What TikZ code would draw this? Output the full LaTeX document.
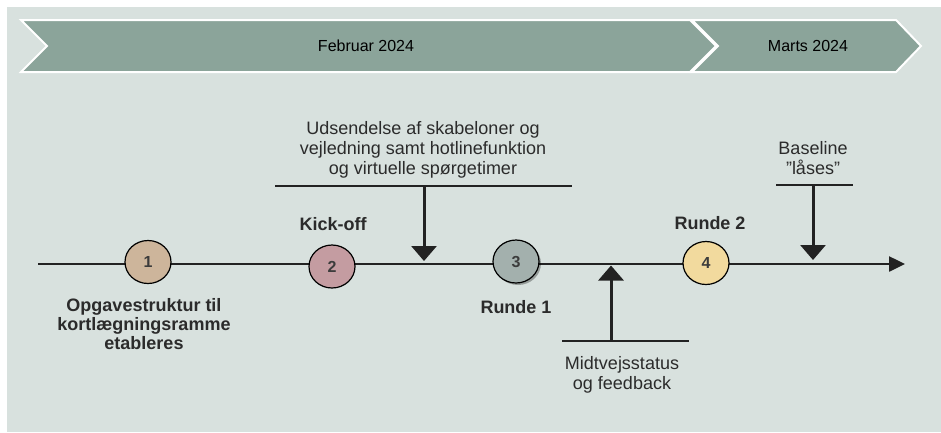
\documentclass[tikz,border=0pt]{standalone}
\usepackage{fontspec}
\setmainfont{Liberation Sans}
\usepackage{tikz}
\usetikzlibrary{calc, arrows.meta, shapes.geometric, shadows}
\usepackage{tkz-euclide}
\usepackage{xcolor}
\definecolor{bgcol}{HTML}{D8E1DE}
\definecolor{bannercol}{HTML}{8BA49A}
\definecolor{linecol}{HTML}{222222}
\definecolor{txtcol}{HTML}{2B2B2B}
\definecolor{numcol}{HTML}{3C3C3C}
\definecolor{tanfill}{HTML}{CDB59B}
\definecolor{rosefill}{HTML}{C49CA1}
\definecolor{greyfill}{HTML}{A3B0AD}
\definecolor{sandfill}{HTML}{F2DA9E}

\begin{document}
\begin{tikzpicture}[x=1pt, y=-1pt,
        milestone/.style={ellipse, draw=black, line width=1.2pt, minimum width=46pt, minimum height=43pt,
            inner sep=0pt, text=numcol, font=\fontsize{16}{16}\selectfont\bfseries},
        phase/.style={fill=bannercol, draw=white, line width=2pt},
        pointer/.style={draw=linecol, line width=3pt, -{Triangle[width=25pt,length=15pt]}},
        shelf/.style={draw=linecol, line width=1.5pt},
        notetext/.style={align=center, anchor=base, text=txtcol, font=\fontsize{18}{20}\selectfont},
        boldtext/.style={align=center, anchor=base, text=txtcol, font=\fontsize{18}{19}\selectfont\bfseries}]
        \useasboundingbox (0,0) rectangle (941,432);
        \fill[bgcol] (7,7) rectangle (941,432);
        \draw[phase] (21,20) -- (690,20) -- (716,46) -- (690,72) -- (21,72) -- (47,46) -- cycle;
        \draw[phase] (692,20) -- (896,20) -- (921,46) -- (896,72) -- (692,72) -- (718,46) -- cycle;
        \node[text=black, font=\fontsize{16}{16}\selectfont] (feb) at (366,46) {Februar 2024};
        \node[text=black, font=\fontsize{16}{16}\selectfont] (mar) at (808,46) {Marts 2024};
        \tkzDefPoints{38/264/S, 905/264/E, 148/262/M1, 332/266.5/M2, 516/261.5/M3, 706/263/M4}
        \tkzDefPoints{275/186/U1, 572/186/U2, 424/186/UA, 424/261/UB}
        \tkzDefPoints{562/341/V1, 689/341/V2, 611/341/VA, 611/265.5/VB}
        \tkzDefPoints{776/185/W1, 853/185/W2, 813/185/WA, 813/260/WB}
        \draw[draw=linecol, line width=2.5pt, -{Triangle[width=15pt,length=16pt]}] (S) -- (E);
        \node[milestone, fill=tanfill] (m1) at (M1) {1};
        \node[milestone, fill=rosefill] (m2) at (M2) {2};
        \node[milestone, fill=greyfill, drop shadow={shadow xshift=2pt, shadow yshift=-2pt, fill=black, opacity=0.3}] (m3) at (M3) {3};
        \node[milestone, fill=sandfill] (m4) at (M4) {4};
        \node[boldtext] (lab1) at (144,349) {Opgavestruktur til\\kortlægningsramme\\etableres};
        \node[boldtext] (lab2) at (333,230) {Kick-off};
        \node[boldtext] (lab3) at (516,313) {Runde 1};
        \node[boldtext] (lab4) at (710,229) {Runde 2};
        \node[notetext] (note1) at (423,174) {Udsendelse af skabeloner og\\vejledning samt hotlinefunktion\\og virtuelle spørgetimer};
        \node[notetext] (note2) at (622,389) {Midtvejsstatus\\og feedback};
        \node[notetext] (note3) at (813,174) {Baseline\\”låses”};
        \draw[shelf] (U1) -- (U2);
        \draw[shelf] (V1) -- (V2);
        \draw[shelf] (W1) -- (W2);
        \draw[pointer] (UA) -- (UB);
        \draw[pointer] (VA) -- (VB);
        \draw[pointer] (WA) -- (WB);
\end{tikzpicture}
\end{document}
